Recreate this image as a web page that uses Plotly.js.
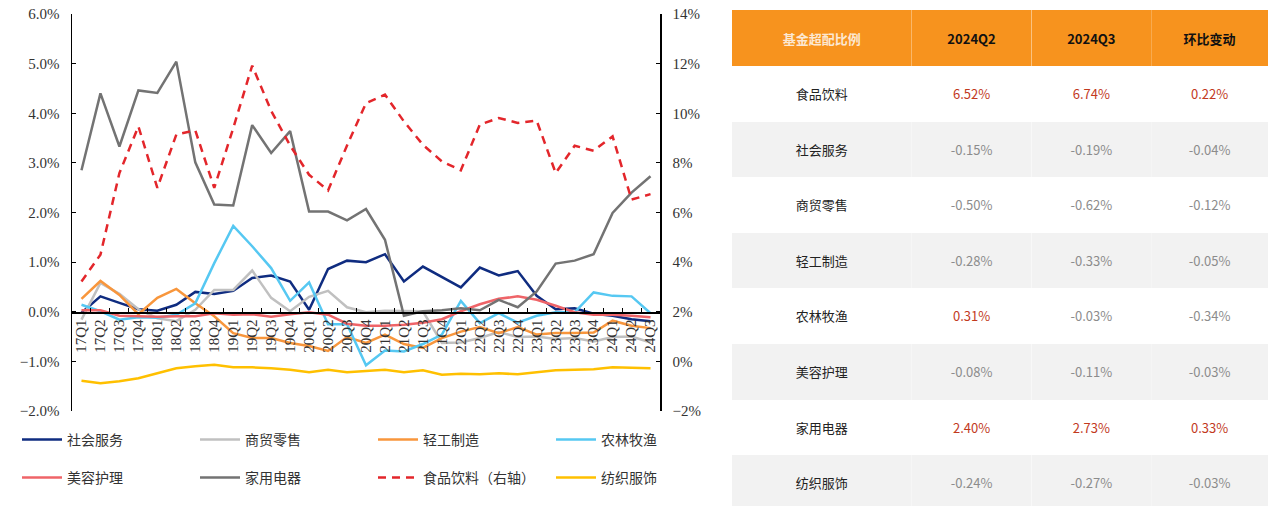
<!DOCTYPE html>
<html>
<head>
<meta charset="utf-8">
<script src="https://cdn.plot.ly/plotly-3.0.1.min.js"></script>
<style>
  html, body { margin: 0; padding: 0; background: #fff; }
  #chart { width: 1269px; height: 506px; }
</style>
</head>
<body>
<div id="chart"></div>
<script>
// quarters on the x axis
const quarters = ['17Q1','17Q2','17Q3','17Q4','18Q1','18Q2','18Q3','18Q4','19Q1','19Q2','19Q3','19Q4',
  '20Q1','20Q2','20Q3','20Q4','21Q1','21Q2','21Q3','21Q4','22Q1','22Q2','22Q3','22Q4',
  '23Q1','23Q2','23Q3','23Q4','24Q1','24Q2','24Q3'];

// fund overweight ratio by industry, % (left axis)
const socialService = [-0.02,0.31,0.18,0.05,0.02,0.14,0.40,0.36,0.42,0.68,0.73,0.61,0.04,0.86,1.03,1.00,1.16,0.61,0.91,0.70,0.49,0.89,0.73,0.82,0.32,0.05,0.07,-0.04,-0.08,-0.15,-0.19];
const retail = [-0.16,0.58,0.36,0.05,-0.13,-0.19,0.04,0.44,0.44,0.83,0.28,0.01,0.30,0.42,0.09,-0.01,0.02,0.02,0.01,-0.63,-0.62,-0.53,-0.41,-0.51,-0.50,-0.55,-0.53,-0.60,-0.51,-0.50,-0.62];
const lightIndustry = [0.26,0.62,0.34,-0.05,0.28,0.46,0.17,-0.09,-0.43,-0.53,-0.53,-0.63,-0.69,-0.79,-0.51,-0.63,-0.46,-0.65,-0.73,-0.53,-0.40,-0.31,-0.43,-0.31,-0.46,-0.43,-0.43,-0.42,-0.18,-0.28,-0.33];
const agriculture = [0.14,0.01,-0.16,-0.11,-0.12,-0.06,0.17,0.98,1.73,1.32,0.88,0.22,0.59,-0.25,-0.25,-1.08,-0.78,-0.80,-0.65,-0.46,0.22,-0.23,-0.03,-0.22,-0.08,-0.01,-0.01,0.39,0.32,0.31,-0.03];
const beauty = [0.03,0.03,-0.08,-0.09,-0.10,-0.09,-0.09,-0.03,-0.06,-0.05,-0.10,-0.05,-0.01,-0.06,-0.24,-0.28,-0.28,-0.26,-0.22,-0.15,0.01,0.15,0.26,0.31,0.24,0.12,-0.01,-0.06,-0.06,-0.08,-0.11];
const appliances = [2.85,4.40,3.33,4.46,4.41,5.04,3.01,2.16,2.14,3.76,3.20,3.64,2.02,2.02,1.84,2.07,1.45,-0.08,0.01,0.03,0.07,0.03,0.24,0.09,0.41,0.97,1.03,1.16,1.99,2.40,2.73];
const textiles = [-1.39,-1.44,-1.40,-1.34,-1.24,-1.14,-1.10,-1.07,-1.12,-1.12,-1.14,-1.17,-1.22,-1.17,-1.22,-1.19,-1.17,-1.22,-1.18,-1.27,-1.25,-1.26,-1.24,-1.26,-1.22,-1.18,-1.17,-1.16,-1.12,-1.13,-1.14];
// food & beverage, % (right axis)
const foodBeverage = [3.22,4.30,7.59,9.47,6.99,9.14,9.31,6.99,9.40,11.92,10.1,8.7,7.52,6.89,8.7,10.41,10.75,9.67,8.73,8.06,7.70,9.54,9.81,9.61,9.70,7.59,8.69,8.49,9.07,6.52,6.74];

// table on the right
const tableHeader = ['基金超配比例','2024Q2','2024Q3','环比变动'];
const industries = ['食品饮料','社会服务','商贸零售','轻工制造','农林牧渔','美容护理','家用电器','纺织服饰'];
const q2Values = [6.52,-0.15,-0.50,-0.28,0.31,-0.08,2.40,-0.24];
const q3Values = [6.74,-0.19,-0.62,-0.33,-0.03,-0.11,2.73,-0.27];
const qoqChange = [0.22,-0.04,-0.12,-0.05,-0.34,-0.03,0.33,-0.03];

const W = 1269, H = 506;
const px = v => v / W;
const py = v => (H - v) / H;

function lineTrace(name, y, color, legend, extra) {
  return Object.assign({
    x: quarters, y: y, name: name, type: 'scatter', mode: 'lines',
    line: {color: color, width: 2.5},
    legend: legend, hoverinfo: 'skip'
  }, extra || {});
}

const traces = [
  lineTrace('社会服务', socialService, '#0F2C80', 'legend'),
  lineTrace('商贸零售', retail, '#C0C0C0', 'legend'),
  lineTrace('轻工制造', lightIndustry, '#F8963C', 'legend'),
  lineTrace('农林牧渔', agriculture, '#56C8F2', 'legend'),
  lineTrace('美容护理', beauty, '#EF6468', 'legend2'),
  lineTrace('家用电器', appliances, '#737373', 'legend2'),
  lineTrace('食品饮料（右轴）', foodBeverage, '#E3262B', 'legend2',
    {yaxis: 'y2', line: {color: '#E3262B', width: 2.5, dash: '8px,6px'}}),
  lineTrace('纺织服饰', textiles, '#FFC000', 'legend2')
];

// the table puts text at the top of a cell; a blank first line pushes it to the middle
const pushDown = t => '\u00a0<br><span style="font-size:13px">' + t + '</span>';
const fmt = v => pushDown(v.toFixed(2) + '%');
const numColor = arr => arr.map(v => v > 0 ? '#C2391E' : '#8C8C8C');
const rowFill = industries.map((d, i) => i % 2 === 0 ? '#FFFFFF' : '#F2F2F2');

traces.push({
  type: 'table',
  domain: {x: [px(732), 1], y: [0, py(10)]},
  columnwidth: [180, 120, 120, 117],
  header: {
    values: tableHeader.map(t => pushDown('<b>' + t + '</b>')),
    align: 'center',
    height: 56,
    fill: {color: '#F7931E'},
    line: {width: 0, color: '#F7931E'},
    font: {family: '"Noto Sans CJK SC", sans-serif', size: 10.4, color: ['#FCE8D2', '#111', '#111', '#111']}
  },
  cells: {
    values: [industries.map(pushDown), q2Values.map(fmt), q3Values.map(fmt), qoqChange.map(fmt)],
    align: 'center',
    height: 55.6,
    fill: {color: [rowFill]},
    line: {width: 0, color: '#FFFFFF'},
    font: {family: '"Noto Sans CJK SC", sans-serif', size: 10,
      color: [industries.map(() => '#222'), numColor(q2Values), numColor(q3Values), numColor(qoqChange)]}
  }
});

const tickFont = {family: '"Liberation Serif", "Times New Roman", serif', size: 15, color: '#333'};
const legendFont = {family: '"Noto Sans CJK SC", sans-serif', size: 14, color: '#333'};

const layout = {
  width: W, height: H,
  margin: {l: 0, r: 0, t: 0, b: 0},
  paper_bgcolor: '#fff', plot_bgcolor: '#fff',
  showlegend: true,
  xaxis: {
    domain: [px(72), px(660)],
    type: 'category', range: [-0.5, quarters.length - 0.5],
    anchor: 'free', position: py(312),
    showline: true, linecolor: '#000', linewidth: 1.5,
    ticks: 'inside', ticklen: 4, tickcolor: '#000', tickson: 'boundaries',
    tickangle: -90, tickfont: tickFont,
    showgrid: false, zeroline: false, fixedrange: true
  },
  yaxis: {
    domain: [py(411), py(14)],
    range: [-2, 6], dtick: 1, tickformat: '.1f', ticksuffix: '%',
    showline: true, linecolor: '#000', linewidth: 1.5,
    ticks: 'inside', ticklen: 4, tickcolor: '#000',
    ticklabelstandoff: 8, tickfont: tickFont,
    showgrid: false, zeroline: false, fixedrange: true
  },
  yaxis2: {
    overlaying: 'y', side: 'right', anchor: 'x',
    range: [-2, 14], dtick: 2, tickformat: 'd', ticksuffix: '%',
    showline: true, linecolor: '#000', linewidth: 1.5,
    ticks: 'inside', ticklen: 4, tickcolor: '#000',
    ticklabelstandoff: 8, tickfont: tickFont,
    showgrid: false, zeroline: false, fixedrange: true
  },
  legend: {
    orientation: 'h', x: px(17), y: py(440), xanchor: 'left', yanchor: 'middle',
    entrywidth: 123, entrywidthmode: 'pixels', itemwidth: 40,
    font: legendFont, bgcolor: 'rgba(0,0,0,0)'
  },
  legend2: {
    orientation: 'h', x: px(17), y: py(478), xanchor: 'left', yanchor: 'middle',
    entrywidth: 123, entrywidthmode: 'pixels', itemwidth: 40,
    font: legendFont, bgcolor: 'rgba(0,0,0,0)'
  }
};

Plotly.newPlot('chart', traces, layout, {displayModeBar: false, staticPlot: true});
</script>
</body>
</html>
